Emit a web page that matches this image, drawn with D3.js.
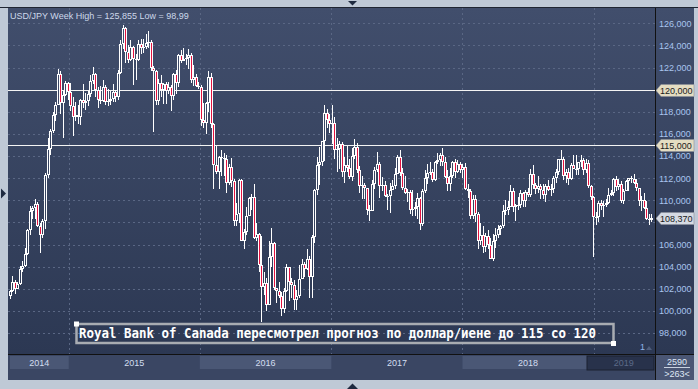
<!DOCTYPE html>
<html>
<head>
<meta charset="utf-8">
<script src="https://cdn.jsdelivr.net/npm/d3@7"></script>
<style>
  body { margin: 0; background: #bfc9d6; }
  svg { display: block; font-family: "Liberation Sans", Arial, sans-serif; }
</style>
</head>
<body>
<svg id="chart" width="698" height="389"></svg>
<script>
// weekly USD/JPY candles, [open, high, low, close], one array per year
const w2014 = [
  [101.35,101.9,101.1,101.8],[101.8,103.15,101.7,102.6],[102.6,102.8,101.5,102.0],[102.0,102.6,101.95,102.4],
  [102.4,104.05,102.3,103.8],[103.8,104.5,103.5,104.1],[104.1,105.7,104.0,105.1],[105.1,107.4,105.05,107.35],
  [107.35,109.45,106.9,109.0],[109.0,109.5,108.3,109.3],[109.3,110.1,108.3,109.7],[109.7,109.8,107.6,107.7],
  [107.7,107.9,105.2,106.9],[106.9,108.35,106.6,108.1],[108.1,112.5,107.4,112.3],[112.3,115.6,112.0,114.6],
  [114.6,116.4,114.1,116.3],[116.3,118.0,116.1,117.7],[117.7,118.9,117.2,118.6],[118.6,121.85,118.6,121.45],
  [121.45,121.7,117.8,118.8],[118.8,119.85,115.6,119.5],[119.5,120.8,119.4,120.6],[120.6,120.7,119.1,119.8]
];
const w2015 = [
  [119.8,120.6,118.1,118.5],[118.5,119.3,115.85,117.5],[117.5,118.9,117.2,117.7],[117.7,118.65,116.9,117.5],
  [117.5,119.2,116.8,119.1],[119.1,120.5,118.3,118.8],[118.8,119.7,118.2,119.0],[119.0,119.9,118.5,119.6],
  [119.6,121.3,119.3,120.8],[120.8,122.05,120.55,121.4],[121.4,121.5,119.3,120.0],[120.0,120.2,118.3,119.1],
  [119.1,120.35,118.7,118.95],[118.95,120.85,118.9,120.2],[120.2,120.45,118.6,118.9],[118.9,120.1,118.5,118.95],
  [118.95,119.9,118.6,119.2],[119.2,120.5,118.9,119.75],[119.75,120.0,118.9,119.3],[119.3,121.8,119.1,121.5],
  [121.5,124.45,121.45,124.1],[124.1,125.855,123.7,125.6],[125.6,125.7,122.45,123.4],[123.4,124.0,122.45,122.7],
  [122.7,124.45,122.6,123.9],[123.9,123.95,120.4,122.8],[122.8,123.2,120.9,122.7],[122.7,124.5,122.6,124.1],
  [124.1,124.6,123.2,123.8],[123.8,124.6,123.3,123.9],[123.9,125.05,123.7,124.2],[124.2,125.3,123.8,124.3],
  [124.3,124.5,121.7,122.0],[122.0,122.1,116.15,121.7],[121.7,121.75,118.6,119.0],[119.0,121.0,118.6,120.6],
  [120.6,121.3,119.3,120.0],[120.0,120.6,118.7,120.55],[120.55,120.7,118.7,119.9],[119.9,120.7,119.6,120.2],
  [120.2,120.4,118.05,119.4],[119.4,121.5,119.1,121.4],[121.4,121.75,119.6,120.6],[120.6,123.25,120.2,123.1],
  [123.1,123.6,122.4,122.6],[122.6,123.75,122.6,122.8],[122.8,123.2,122.2,122.85],[122.85,123.7,121.9,123.1],
  [123.1,123.3,120.6,120.9],[120.9,122.2,120.35,121.1],[121.1,121.4,120.2,120.3],[120.3,120.7,120.1,120.2]
];
const w2016 = [
  [120.2,120.4,116.7,117.25],[117.25,118.8,116.5,117.0],[117.0,118.9,115.95,118.8],[118.8,121.7,118.0,121.1],
  [121.1,121.5,116.5,116.9],[116.9,117.0,110.98,113.2],[113.2,114.9,112.4,112.6],[112.6,114.0,111.05,113.95],
  [113.95,114.55,112.2,113.8],[113.8,114.25,112.2,113.75],[113.75,114.1,110.7,111.55],[111.55,113.3,111.4,113.0],
  [113.0,113.8,111.2,111.7],[111.7,111.9,107.7,108.1],[108.1,109.75,107.65,108.75],[108.75,111.9,107.9,111.8],
  [111.8,111.9,106.3,106.35],[106.35,107.4,105.55,107.15],[107.15,109.4,106.9,108.6],[108.6,110.3,108.6,110.2],
  [110.2,110.6,109.1,110.3],[110.3,111.45,106.5,106.55],[106.55,107.9,106.3,106.95],[106.95,107.0,103.55,104.15],
  [104.15,106.8,98.99,102.2],[102.2,103.5,101.45,102.55],[102.55,103.0,99.95,100.55],[100.55,106.3,100.5,104.85],
  [104.85,107.5,104.0,106.1],[106.1,106.2,101.9,102.05],[102.05,102.1,100.7,101.8],[101.8,102.6,101.2,101.3],
  [101.3,101.7,99.55,100.2],[100.2,102.05,99.8,101.8],[101.8,104.2,101.7,103.95],[103.95,104.0,100.9,102.65],
  [102.65,103.0,101.2,102.3],[102.3,102.8,100.1,101.0],[101.0,101.9,100.1,101.35],[101.35,104.15,101.2,102.9],
  [102.9,104.65,102.9,104.2],[104.2,104.4,103.1,103.8],[103.8,105.55,103.7,104.7],[104.7,105.0,101.2,103.1],
  [103.1,106.9,101.2,106.65],[106.65,111.0,106.1,110.9],[110.9,113.9,110.45,113.2],[113.2,114.85,111.35,113.5],
  [113.5,115.4,113.1,115.35],[115.35,118.65,113.55,117.9],[117.9,118.25,116.55,117.3],[117.3,117.8,116.05,116.9]
];
const w2017 = [
  [116.9,118.6,115.05,116.95],[116.95,117.5,113.75,114.5],[114.5,115.6,112.55,114.6],[114.6,115.35,112.85,115.1],
  [115.1,115.3,112.1,112.6],[112.6,113.95,111.6,113.2],[113.2,114.95,112.6,112.9],[112.9,113.75,111.95,112.1],
  [112.1,114.75,111.7,114.0],[114.0,115.5,113.7,114.8],[114.8,115.2,112.5,112.7],[112.7,113.1,110.65,111.3],
  [111.3,112.2,110.1,111.4],[111.4,111.6,110.1,111.1],[111.1,111.1,108.7,109.1],[109.1,109.6,108.15,109.0],
  [109.0,111.8,109.0,111.5],[111.5,113.0,111.0,112.7],[112.7,114.35,112.55,113.3],[113.3,113.5,110.25,111.3],
  [111.3,112.1,110.85,111.35],[111.35,111.7,110.3,110.4],[110.4,110.6,109.1,110.35],[110.35,111.6,108.85,110.9],
  [110.9,111.8,110.9,111.3],[111.3,112.9,111.05,112.4],[112.4,114.05,112.35,113.9],[113.9,114.5,112.2,112.5],
  [112.5,112.9,110.95,111.1],[111.1,112.2,110.6,110.7],[110.7,111.05,109.85,110.75],[110.75,110.95,108.75,109.15],
  [109.15,110.95,108.6,109.2],[109.2,109.85,108.6,109.35],[109.35,110.65,108.3,110.25],[110.25,110.3,107.3,107.85],
  [107.85,111.05,107.7,110.85],[110.85,112.7,110.65,112.0],[112.0,113.25,111.45,112.5],[112.5,113.45,112.25,112.6],
  [112.6,112.85,111.65,111.8],[111.8,113.55,111.7,113.5],[113.5,114.25,113.25,113.65],[113.65,114.3,113.1,114.05],
  [114.05,114.75,113.1,113.5],[113.5,113.9,112.0,112.1],[112.1,112.7,110.85,111.5],[111.5,112.9,110.85,112.2],
  [112.2,113.55,112.05,113.5],[113.5,113.75,112.05,112.6],[112.6,113.6,112.45,113.3],[113.3,113.45,112.5,112.7]
];
const w2018 = [
  [112.7,113.3,112.05,113.05],[113.05,113.4,110.9,111.05],[111.05,111.5,110.2,110.8],[110.8,111.0,108.3,108.6],
  [108.6,110.5,108.3,110.15],[110.15,110.5,108.05,108.8],[108.8,108.9,105.55,106.3],[106.3,107.9,106.0,106.9],
  [106.9,107.7,105.25,105.75],[105.75,107.05,105.3,106.8],[106.8,107.3,105.6,106.0],[106.0,106.6,104.65,104.7],
  [104.7,106.95,104.55,106.3],[106.3,107.5,105.65,106.9],[106.9,107.8,106.6,107.4],[107.4,107.8,106.9,107.65],
  [107.65,109.55,107.5,109.05],[109.05,110.05,108.65,109.1],[109.1,109.95,108.65,109.4],[109.4,111.4,109.35,110.8],
  [110.8,111.1,108.95,109.4],[109.4,109.7,108.1,109.55],[109.55,110.3,109.15,109.6],[109.6,110.9,109.3,110.65],
  [110.65,110.75,109.4,109.95],[109.95,110.95,109.35,110.75],[110.75,111.15,110.3,110.45],[110.45,112.8,110.3,112.4],
  [112.4,113.2,111.0,111.4],[111.4,111.55,110.6,111.05],[111.05,112.15,110.7,111.25],[111.25,111.5,110.1,110.9],
  [110.9,111.45,110.1,110.5],[110.5,111.5,109.8,111.25],[111.25,111.85,110.8,110.95],[110.95,111.5,110.4,111.0],
  [111.0,112.2,110.7,112.05],[112.05,112.85,111.6,112.6],[112.6,113.7,112.3,113.7],[113.7,114.55,113.6,113.75],
  [113.75,113.95,111.85,112.2],[112.2,112.85,111.6,112.55],[112.55,112.9,111.35,111.9],[111.9,113.4,111.8,113.2],
  [113.2,114.1,112.8,112.85],[112.85,114.1,112.3,112.8],[112.8,113.5,112.3,113.45],[113.45,114.05,113.05,113.6],
  [113.6,113.85,112.25,112.7],[112.7,113.75,112.5,113.4],[113.4,113.65,111.1,111.25],[111.25,111.4,110.0,110.3]
];
const w2019 = [
  [110.3,110.4,104.9,108.5],[108.5,108.95,107.8,108.45],[108.45,109.9,108.0,109.75],[109.75,110.0,109.1,109.5],
  [109.5,109.9,108.5,109.55],[109.55,110.15,109.4,109.75],[109.75,111.15,109.7,110.5],[110.5,110.95,110.35,110.7],
  [110.7,112.0,110.35,111.9],[111.9,112.15,110.8,111.2],[111.2,111.9,110.9,111.45],[111.45,111.7,109.75,109.9],
  [109.9,111.0,109.7,110.85],[110.85,111.8,110.8,111.7],[111.7,112.0,110.85,112.0],[112.0,112.15,111.6,111.9],
  [111.9,112.4,111.45,111.6],[111.6,111.9,110.8,111.1],[111.1,111.1,109.5,109.95],[109.95,110.35,109.0,110.05],
  [110.05,110.65,109.25,109.3],[109.3,109.9,108.25,108.3],[108.3,108.75,107.8,108.2],[108.2,108.8,108.0,108.37]
];

const title = "USD/JPY Week High = 125,855 Low = 98,99";
const note = "Royal Bank of Canada пересмотрел прогноз по доллар/иене до 115 со 120";
const priceTicks = [98, 100, 102, 104, 106, 108, 110, 112, 114, 116, 118, 120, 122, 124, 126];
const levels = [120, 115];
const lastPrice = 108.37;
const years = [2014, 2015, 2016, 2017, 2018, 2019];

// layout
const plot = { left: 8, right: 655, top: 8, bottom: 354 };
const red = "#e3123f";

const candles = [].concat(w2014, w2015, w2016, w2017, w2018, w2019);
const weeks = d3.utcMonday.range(new Date(Date.UTC(2014, 6, 21)), new Date(Date.UTC(2019, 5, 11)));
const data = candles.map((c, i) => ({ date: weeks[i], o: c[0], h: c[1], l: c[2], c: c[3] }));

const x = d3.scaleUtc()
  .domain([new Date(Date.UTC(2014, 6, 18)), new Date(Date.UTC(2019, 5, 20))])
  .range([8.7, 654.7]);
const y = d3.scaleLinear().domain([98, 126]).range([333, 23.3]);

const svg = d3.select("#chart");
const defs = svg.append("defs");
const grad = defs.append("linearGradient").attr("id", "bg")
  .attr("gradientUnits", "userSpaceOnUse")
  .attr("x1", 0).attr("y1", plot.top).attr("x2", 0).attr("y2", plot.bottom);
grad.append("stop").attr("offset", 0).attr("stop-color", "#414e6c");
grad.append("stop").attr("offset", 1).attr("stop-color", "#2c3853");
defs.append("clipPath").attr("id", "clip").append("rect")
  .attr("x", plot.left).attr("y", plot.top)
  .attr("width", plot.right - plot.left).attr("height", plot.bottom - plot.top);

// frame and background
svg.append("rect").attr("width", 698).attr("height", 389).attr("fill", "#bfc9d6");
svg.append("rect").attr("x", 8).attr("y", 8).attr("width", 686).attr("height", 372).attr("fill", "url(#bg)");
svg.append("rect").attr("x", 8).attr("y", 355).attr("width", 686).attr("height", 25).attr("fill", "#3a4663");
svg.append("line").attr("x1", 0).attr("x2", 698).attr("y1", 7.5).attr("y2", 7.5).attr("stroke", "#1f2532");
svg.append("path").attr("d", "M348,1L357,1L352.5,5.5Z").attr("fill", "#1e2a40");
svg.append("path").attr("d", "M347,389L358,389L352.5,383.5Z").attr("fill", "#1e2a40");
svg.append("path").attr("d", "M1,188.5L1,198.5L6,193.5Z").attr("fill", "#1e2a40");

// grid
const grid = svg.append("g").attr("stroke", "#5a6784").attr("stroke-dasharray", "2,3");
grid.selectAll(".h").data(priceTicks).join("line")
  .attr("x1", plot.left).attr("x2", plot.right)
  .attr("y1", d => Math.round(y(d)) + 0.5).attr("y2", d => Math.round(y(d)) + 0.5);
grid.selectAll(".v").data(years.slice(1)).join("line")
  .attr("x1", d => Math.round(x(new Date(Date.UTC(d, 0, 1)))) + 0.5)
  .attr("x2", d => Math.round(x(new Date(Date.UTC(d, 0, 1)))) + 0.5)
  .attr("y1", plot.top).attr("y2", plot.bottom);

// forecast levels
svg.selectAll(".level").data(levels).join("line")
  .attr("x1", plot.left).attr("x2", plot.right)
  .attr("y1", d => Math.round(y(d)) + 0.5).attr("y2", d => Math.round(y(d)) + 0.5)
  .attr("stroke", "#f4f4f4");

// candles
const cg = svg.append("g").attr("clip-path", "url(#clip)");
data.forEach(d => {
  const cx = Math.round(x(d.date));
  const top = Math.round(y(Math.max(d.o, d.c)));
  const bot = Math.max(top + 1, Math.round(y(Math.min(d.o, d.c))));
  cg.append("rect").attr("x", cx).attr("width", 1)
    .attr("y", Math.round(y(d.h))).attr("height", Math.max(1, Math.round(y(d.l)) - Math.round(y(d.h))))
    .attr("fill", "#fff");
  cg.append("rect").attr("x", cx - 1).attr("width", 3)
    .attr("y", top).attr("height", bot - top).attr("fill", "#fff");
  if (bot - top > 2) {
    cg.append("rect").attr("x", cx).attr("width", 1)
      .attr("y", top + 1).attr("height", bot - top - 2)
      .attr("fill", d.c < d.o ? red : "url(#bg)");
  }
});

// title
svg.append("text").attr("x", 10).attr("y", 19)
  .attr("font-size", 9).attr("fill", "#cdd8ea").text(title);

// price axis on the right (108 sits under the last-price tag)
const fmt = v => d3.format(".3f")(v).replace(".", ",");
const yAxis = svg.append("g").attr("transform", "translate(656,0)")
  .call(d3.axisRight(y).tickValues(priceTicks.filter(v => v !== 108))
    .tickSize(0).tickPadding(3).tickFormat(fmt));
yAxis.select(".domain").remove();
yAxis.selectAll("text").attr("font-family", "Liberation Sans, Arial, sans-serif")
  .attr("font-size", 9).attr("fill", "#a9c5ef");

// level / last price tags
const tags = levels.map(v => ({ v, fill: "#e4ddc2" })).concat([{ v: lastPrice, fill: "#d5dae3" }]);
const tg = svg.selectAll(".tag").data(tags).join("g")
  .attr("transform", d => `translate(0,${Math.round(y(d.v)) + 0.5})`);
tg.append("path").attr("d", "M656,0L661,-6L694,-6L694,6L661,6Z")
  .attr("fill", d => d.fill).attr("stroke", "#8a8f98").attr("stroke-width", 0.6);
tg.append("text").attr("x", 660).attr("dy", "0.35em")
  .attr("font-size", 9).attr("fill", "#1b1b1b").text(d => fmt(d.v));

// borders of plot
svg.append("line").attr("x1", 655.5).attr("x2", 655.5).attr("y1", 8).attr("y2", 380).attr("stroke", "#111");
svg.append("line").attr("x1", 8).attr("x2", 694).attr("y1", 354.5).attr("y2", 354.5).attr("stroke", "#111");

// year strip
const yearSpan = years.map(yr => ({
  yr,
  x0: Math.max(10, x(new Date(Date.UTC(yr, 0, 1)))),
  x1: Math.min(654, x(new Date(Date.UTC(yr + 1, 0, 1))))
}));
svg.selectAll(".yb").data(yearSpan.filter((d, i) => i % 2 === 0 && d.yr !== 2019)).join("rect")
  .attr("x", d => d.x0).attr("y", 356).attr("width", d => d.x1 - d.x0).attr("height", 13)
  .attr("fill", "#4a5775");
svg.append("rect").attr("x", 587).attr("y", 356).attr("width", 67).attr("height", 14)
  .attr("fill", "#28324b").attr("stroke", "#1a2030");
svg.selectAll(".yl").data(yearSpan).join("text")
  .attr("x", d => (d.x0 + d.x1) / 2).attr("y", 366)
  .attr("text-anchor", "middle").attr("font-size", 9)
  .attr("fill", d => d.yr === 2019 ? "#5c6a88" : "#d3def0")
  .text(d => d.yr);

// bar count box
svg.append("rect").attr("x", 656).attr("y", 355).attr("width", 38).attr("height", 25).attr("fill", "#4a5674");
svg.append("text").attr("x", 677).attr("y", 365).attr("text-anchor", "middle")
  .attr("font-size", 9).attr("fill", "#dfe7f4").text("2590");
svg.append("line").attr("x1", 664).attr("x2", 690).attr("y1", 367.5).attr("y2", 367.5).attr("stroke", "#c9d2e0");
svg.append("text").attr("x", 677).attr("y", 377).attr("text-anchor", "middle")
  .attr("font-size", 9).attr("fill", "#dfe7f4").text(">263<");
svg.append("text").attr("x", 640).attr("y", 350).attr("font-size", 9).attr("fill", "#8fb4ea").text("1");
svg.append("path").attr("d", "M646,350L652,350L649,346Z").attr("fill", "#4f5e7c");

// news annotation
svg.append("rect").attr("x", 76.5).attr("y", 324).attr("width", 537).attr("height", 19)
  .attr("fill", "none").attr("stroke", "#a8acb2").attr("stroke-width", 2.5);
svg.append("text").attr("x", 79).attr("y", 338)
  .attr("font-family", "DejaVu Sans Mono, monospace").attr("font-size", 14).attr("font-weight", "bold")
  .attr("textLength", 517).attr("lengthAdjust", "spacingAndGlyphs")
  .attr("fill", "#fff").text(note);
svg.append("rect").attr("x", 74).attr("y", 321.5).attr("width", 5).attr("height", 5).attr("fill", "#fff");
svg.append("rect").attr("x", 611).attr("y", 341).attr("width", 5).attr("height", 5).attr("fill", "#fff");
</script>
</body>
</html>
